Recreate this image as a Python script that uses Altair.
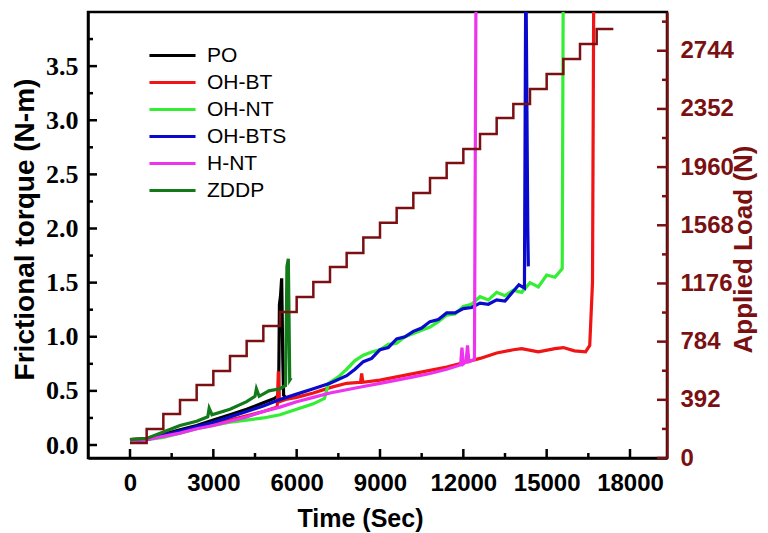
import altair as alt
import pandas as pd

# ---------------- data ----------------
series_names = ["PO", "OH-BT", "OH-NT", "OH-BTS", "H-NT", "ZDDP"]
series_colors = ["#000000", "#F01414", "#33EE33", "#0A0ACC", "#EE33EE", "#137A1A"]

po_time = [0, 600, 1200, 1800, 2400, 3000, 3600, 4200, 4800, 5200, 5350, 5380, 5420, 5460, 5500, 5530, 5600]
po_torque = [0.05, 0.06, 0.10, 0.14, 0.18, 0.23, 0.28, 0.33, 0.39, 0.43, 0.46, 1.30, 1.38, 1.54, 0.80, 0.46, 0.44]

ohbt_time = [0, 600, 1200, 1800, 2400, 3000, 3600, 4200, 4800, 5300, 5340, 5380, 5600, 6000, 6600, 7200, 7800,
             8300, 8340, 8380, 9000, 9600, 10200, 10800, 11400, 12000, 12600, 13200, 13800, 14100, 14700, 15300,
             15600, 16000, 16400, 16550, 16650, 16700]
ohbt_torque = [0.05, 0.06, 0.09, 0.12, 0.16, 0.19, 0.23, 0.27, 0.31, 0.35, 0.68, 0.40, 0.42, 0.44, 0.48, 0.53, 0.57,
               0.58, 0.66, 0.58, 0.60, 0.63, 0.66, 0.69, 0.72, 0.76, 0.80, 0.85, 0.88, 0.89, 0.86, 0.89,
               0.90, 0.87, 0.86, 0.92, 1.50, 4.50]

ohnt_time = [0, 600, 1200, 1800, 2400, 3000, 3600, 4200, 4800, 5400, 6000, 6600, 7000, 7150, 7500, 7800, 8100,
             8400, 8700, 9000, 9300, 9600, 9900, 10200, 10500, 10800, 11100, 11400, 11700, 12000, 12300, 12600,
             12900, 13200, 13500, 13800, 14100, 14400, 14700, 15000, 15300, 15560, 15600]
ohnt_torque = [0.04, 0.05, 0.07, 0.11, 0.15, 0.18, 0.21, 0.23, 0.25, 0.28, 0.33, 0.38, 0.43, 0.57, 0.63, 0.70, 0.78,
               0.83, 0.86, 0.88, 0.93, 0.94, 1.00, 1.03, 1.06, 1.09, 1.14, 1.20, 1.21, 1.28, 1.30, 1.37,
               1.34, 1.41, 1.38, 1.43, 1.41, 1.50, 1.46, 1.57, 1.55, 1.63, 4.50]

ohbts_time = [0, 600, 1200, 1800, 2400, 3000, 3600, 4200, 4800, 5400, 6000, 6600, 7200, 7800, 8100, 8400, 8700,
              9000, 9300, 9600, 9900, 10200, 10500, 10800, 11100, 11400, 11700, 12000, 12300, 12600, 12900, 13200,
              13500, 13800, 14000, 14200, 14250, 14320, 14340]
ohbts_torque = [0.04, 0.05, 0.09, 0.13, 0.17, 0.21, 0.26, 0.31, 0.36, 0.42, 0.47, 0.52, 0.57, 0.64, 0.70, 0.77, 0.80,
                0.88, 0.90, 0.98, 1.00, 1.05, 1.08, 1.14, 1.16, 1.22, 1.22, 1.26, 1.27, 1.31, 1.30, 1.34,
                1.33, 1.42, 1.48, 1.45, 4.50, 2.00, 1.65]

hnt_time = [0, 600, 1200, 1800, 2400, 3000, 3600, 4200, 4800, 5400, 6000, 6600, 7200, 7800, 8400, 9000, 9600,
            10200, 10800, 11400, 11900, 11950, 12000, 12100, 12150, 12200, 12400, 12460]
hnt_torque = [0.04, 0.05, 0.08, 0.11, 0.15, 0.18, 0.22, 0.26, 0.31, 0.35, 0.40, 0.44, 0.48, 0.51, 0.54, 0.57, 0.60,
              0.63, 0.66, 0.70, 0.74, 0.90, 0.75, 0.77, 0.92, 0.77, 0.79, 4.50]

zddp_time = [0, 600, 1200, 1800, 2400, 2800, 2850, 2950, 3600, 4200, 4500, 4550, 4650, 5000, 5400, 5600, 5650,
             5700, 5750, 5800]
zddp_torque = [0.05, 0.06, 0.12, 0.18, 0.22, 0.26, 0.34, 0.28, 0.33, 0.40, 0.45, 0.52, 0.45, 0.50, 0.52, 0.55, 1.65,
               1.72, 0.60, 0.62]

load_time = [0, 600, 1200, 1800, 2400, 3000, 3600, 4200, 4800, 5400, 6000, 6600, 7200, 7800, 8400, 9000, 9600,
             10200, 10800, 11400, 12000, 12600, 13200, 13800, 14400, 15000, 15600, 16200, 16800, 17400]
load_value = [101, 195, 296, 391, 492, 586, 687, 788, 889, 983, 1085, 1186, 1287, 1381, 1485, 1585, 1685,
              1786, 1887, 1988, 2082, 2183, 2291, 2385, 2487, 2588, 2689, 2790, 2891, 2891]

x_ticks = [0, 3000, 6000, 9000, 12000, 15000, 18000]
x_minor = [1500, 4500, 7500, 10500, 13500, 16500]
torque_ticks = [0.0, 0.5, 1.0, 1.5, 2.0, 2.5, 3.0, 3.5]
torque_minor = [0.25, 0.75, 1.25, 1.75, 2.25, 2.75, 3.25, 3.75]
load_ticks = [0, 392, 784, 1176, 1568, 1960, 2352, 2744]
load_minor = [196, 588, 980, 1372, 1764, 2156, 2548, 2940]

# ---------------- tables ----------------
pairs = [(po_time, po_torque), (ohbt_time, ohbt_torque), (ohnt_time, ohnt_torque),
         (ohbts_time, ohbts_torque), (hnt_time, hnt_torque), (zddp_time, zddp_torque)]
rows = []
for order, (name, (ts, vs)) in enumerate(zip(series_names, pairs)):
    for t, v in zip(ts, vs):
        rows.append({"series": name, "time": t, "torque": v, "ord": order})
torque_df = pd.DataFrame(rows)
load_df = pd.DataFrame({"time": load_time, "load": load_value})

MAROON = "#7A1012"
W, H = 579, 446
SANS = "Liberation Sans"
SERIF = "Liberation Serif"

xscale = alt.Scale(domain=[-1512, 19332], nice=False, zero=False)
yscale_t = alt.Scale(domain=[-0.12, 4.0], nice=False, zero=False)
yscale_l = alt.Scale(domain=[0, 3005], nice=False, zero=False)

x_axis = alt.Axis(values=x_ticks, format="d", ticks=False, grid=False, domainColor="black", domainWidth=2.5,
                  labelFont=SANS, labelFontWeight="bold", labelFontSize=24, labelColor="black", labelPadding=13,
                  title="Time (Sec)", titleFont=SANS, titleFontWeight="bold", titleFontSize=25, titleColor="black",
                  titleX=272, titleY=68, titleBaseline="alphabetic")
y_axis_t = alt.Axis(orient="left", values=torque_ticks, format=".1f", ticks=False, grid=False,
                    domainColor="black", domainWidth=2.5, labelFont=SERIF, labelFontWeight="bold",
                    labelFontSize=26, labelColor="black", labelPadding=10,
                    title="Frictional torque (N-m)", titleFont=SANS, titleFontWeight="bold",
                    titleFontSize=28, titleColor="black", titleX=-63, titleY=217, titleBaseline="middle")
y_axis_l = alt.Axis(orient="right", values=load_ticks, format="d", ticks=False, grid=False,
                    domainColor=MAROON, domainWidth=2.5, labelFont=SANS, labelFontWeight="bold",
                    labelFontSize=24, labelColor=MAROON, labelPadding=13,
                    title="Applied Load (N)", titleFont=SANS, titleFontWeight="bold", titleFontSize=26,
                    titleColor=MAROON, titleAngle=270, titleX=76, titleY=237, titleBaseline="middle")

lines = alt.Chart(torque_df).mark_line(strokeWidth=3.2, clip=True).encode(
    x=alt.X("time:Q", scale=xscale, axis=x_axis, title="Time (Sec)"),
    y=alt.Y("torque:Q", scale=yscale_t, axis=y_axis_t, title="Frictional torque (N-m)"),
    color=alt.Color("series:N", scale=alt.Scale(domain=series_names, range=series_colors),
                    legend=alt.Legend(orient="none", legendX=74, legendY=33, title=None,
                                      symbolType="M-5,0H5", symbolSize=85, symbolStrokeWidth=3,
                                      labelFont=SANS, labelFontSize=21, labelColor="black",
                                      labelOffset=24, rowPadding=5, padding=0)),
    order=alt.Order("ord:Q"),
)


def hticks(values, x1, x2, scale, axis, title, color):
    df = pd.DataFrame({"v": values})
    return alt.Chart(df).mark_rule(color=color, strokeWidth=2.5).encode(
        y=alt.Y("v:Q", scale=scale, axis=axis, title=title), x=alt.value(x1), x2=alt.value(x2))


def vticks(values, y1, y2):
    df = pd.DataFrame({"v": values})
    return alt.Chart(df).mark_rule(color="black", strokeWidth=2.5).encode(
        x=alt.X("v:Q", scale=xscale, axis=x_axis, title="Time (Sec)"), y=alt.value(y1), y2=alt.value(y2))


left_major = hticks(torque_ticks, 0, 9, yscale_t, y_axis_t, "Frictional torque (N-m)", "black")
left_minor = hticks(torque_minor, 0, 5, yscale_t, y_axis_t, "Frictional torque (N-m)", "black")
bottom_major = vticks(x_ticks, H, H - 9)
bottom_minor = vticks(x_minor, H, H - 5)

torque_layer = alt.layer(lines, left_major, left_minor, bottom_major, bottom_minor)

load_line = alt.Chart(load_df).mark_line(color=MAROON, strokeWidth=2.5, interpolate="step-after").encode(
    x=alt.X("time:Q", scale=xscale, axis=x_axis, title="Time (Sec)"),
    y=alt.Y("load:Q", scale=yscale_l, axis=y_axis_l, title="Applied Load (N)"),
)
right_major = hticks(load_ticks, W - 10, W, yscale_l, y_axis_l, "Applied Load (N)", MAROON)
right_minor = hticks(load_minor, W - 5, W, yscale_l, y_axis_l, "Applied Load (N)", MAROON)

load_layer = alt.layer(load_line, right_major, right_minor)

chart = alt.layer(torque_layer, load_layer).resolve_scale(y="independent").properties(
    width=W, height=H,
    autosize=alt.AutoSizeParams(type="none"),
    padding={"left": 80, "top": 4, "right": 93, "bottom": 75},
    background="white",
).configure_view(stroke="black", strokeWidth=2.5)

chart.save("out.html", embed_options={"renderer": "svg", "actions": False})
